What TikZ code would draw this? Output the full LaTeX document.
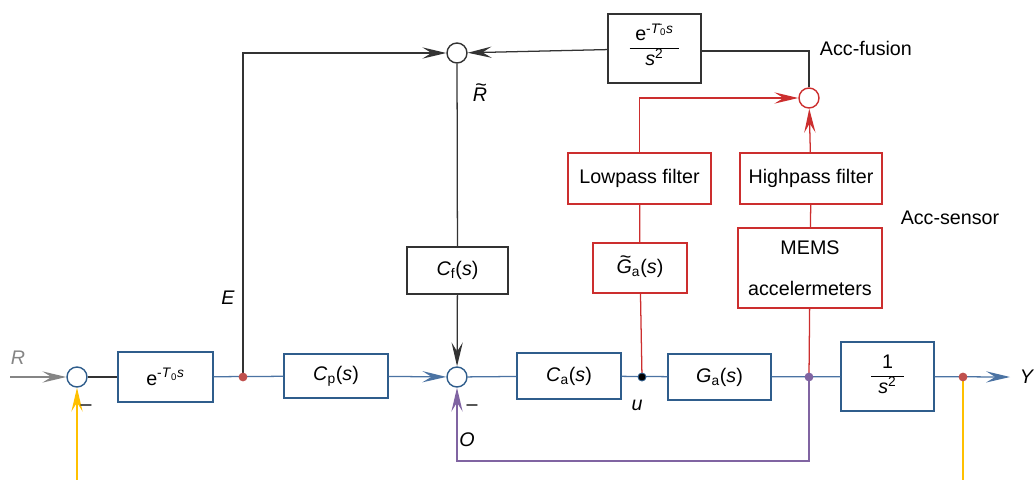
\documentclass[tikz,border=0pt]{standalone}
\usepackage{fontspec}
\setmainfont{Liberation Sans}
\usetikzlibrary{arrows.meta}

\definecolor{boxblue}{HTML}{2F5D8C}
\definecolor{lineblue}{HTML}{4B73A3}
\definecolor{accred}{HTML}{CC2E2E}
\definecolor{dotred}{HTML}{C0504D}
\definecolor{fbpurple}{HTML}{8064A2}
\definecolor{distyellow}{HTML}{FFC000}
\definecolor{refgray}{HTML}{858585}
\definecolor{darkline}{HTML}{333333}

% italic letter with a tilde on top
\newcommand{\tildeit}[1]{\ooalign{\textit{#1}\cr\hidewidth\hspace{0.12em}\raisebox{0.5em}{\textasciitilde}\hidewidth\cr}}

\begin{document}
\begin{tikzpicture}[x=0.025cm,y=-0.025cm,
	every node/.style={font=\fontsize{14}{17}\selectfont},
	blk/.style={draw=#1,line width=1pt,inner sep=2pt},
	sumnode/.style={circle,draw=#1,fill=white,line width=1pt,minimum size=0.5cm,inner sep=0pt},
	dotnode/.style={circle,fill=#1,minimum size=0.22cm,inner sep=0pt},
	tip/.style={-{Stealth[length=17pt,width=8pt,inset=6.5pt]}},
	wire/.style={line width=0.9pt}]
	\useasboundingbox (0,0) rectangle (1035,480);

	% summing junctions
	\node[sumnode=boxblue] (s1) at (77,377) {};
	\node[sumnode=darkline] (s2) at (457,53) {};
	\node[sumnode=boxblue] (s3) at (457,377) {};
	\node[sumnode=accred] (s4) at (809,98) {};

	% forward path
	\node[blk=boxblue,minimum width=2.375cm,minimum height=1.25cm] (delay) at (165.5,377)
		{e\textsuperscript{-\textit{T}\textsubscript{0}\textit{s}}};
	\node[blk=boxblue,minimum width=2.6cm,minimum height=1.1cm] (cp) at (336,376)
		{\textit{C}\textsubscript{p}(\textit{s})};
	\node[blk=boxblue,minimum width=2.6cm,minimum height=1.15cm] (ca) at (569,376)
		{\textit{C}\textsubscript{a}(\textit{s})};
	\node[blk=boxblue,minimum width=2.575cm,minimum height=1.15cm] (ga) at (719.5,377)
		{\textit{G}\textsubscript{a}(\textit{s})};
	\node[blk=boxblue,minimum width=2.325cm,minimum height=1.725cm] (plant) at (887.5,376.5)
		{\begin{tabular}{@{\hspace{5pt}}c@{\hspace{5pt}}}1\\\hline\textit{s}\textsuperscript{2}\end{tabular}};

	% feed-forward and model
	\node[blk=darkline,minimum width=2.525cm,minimum height=1.175cm] (cf) at (457.5,270.5)
		{\textit{C}\textsubscript{f}(\textit{s})};
	\node[blk=darkline,minimum width=2.325cm,minimum height=1.725cm] (model) at (654.5,48.5)
		{\begin{tabular}{@{\hspace{4pt}}c@{\hspace{4pt}}}e\textsuperscript{-\={\textit{T}}\textsubscript{0}\textit{s}}\\\hline\textit{s}\textsuperscript{2}\end{tabular}};

	% acc sensor
	\node[blk=accred,minimum width=3.575cm,minimum height=1.275cm] (lowpass) at (639.5,178.5) {Lowpass filter};
	\node[blk=accred,minimum width=3.55cm,minimum height=1.275cm] (highpass) at (811,178.5) {Highpass filter};
	\node[blk=accred,minimum width=2.35cm,minimum height=1.25cm] (gtilde) at (640,268)
		{\tildeit{G}\textsubscript{a}(\textit{s})};
	\node[blk=accred,minimum width=3.6cm,minimum height=2cm,align=center] (mems) at (810,268)
		{MEMS\\[12pt]accelermeters};

	% branch points
	\coordinate (e) at (243,377);
	\coordinate (u) at (642,377);
	\coordinate (acc) at (809,377);
	\coordinate (y) at (963,377);
	\coordinate (rin) at (10,377);
	\coordinate (yout) at (1010,377);
	\coordinate (din) at (77,480);
	\coordinate (dout) at (963,480);

	% connectors
	\draw[wire,refgray,tip] (rin) -- (s1);
	\draw[wire,distyellow,tip] (din) -- (s1);
	\draw[wire,darkline] (s1) -- (delay);
	\draw[wire,lineblue] (delay) -- (cp);
	\draw[wire,darkline,tip] (e) |- (s2);
	\draw[wire,lineblue,tip] (cp) -- (s3);
	\draw[wire,lineblue] (s3) -- (ca);
	\draw[wire,lineblue] (ca) -- (ga);
	\draw[wire,lineblue] (ga) -- (plant);
	\draw[wire,lineblue,tip] (plant) -- (yout);
	\draw[wire,distyellow] (y) -- (dout);
	\draw[wire,fbpurple,tip] (acc) -- ++(0,84) -| (s3);
	\draw[wire,darkline] (s2) -- (cf);
	\draw[wire,darkline,tip] (cf) -- (s3);
	\draw[wire,darkline,tip] (model) -- (s2);
	\draw[wire,darkline] (model.east) ++(0,2.5) -| (s4);
	\draw[wire,accred,tip] (lowpass) |- (s4);
	\draw[wire,accred,tip] (highpass) -- (s4);
	\draw[wire,accred] (mems) -- (highpass);
	\draw[wire,accred] (mems) -- (acc);
	\draw[wire,accred] (gtilde) -- (lowpass);
	\draw[wire,accred] (gtilde) -- (u);

	% dots
	\node[dotnode=dotred] at (e) {};
	\node[dotnode=black,draw=boxblue,line width=0.6pt,minimum size=0.2cm] at (u) {};
	\node[dotnode=fbpurple] at (acc) {};
	\node[dotnode=dotred] at (y) {};

	% labels
	\node[refgray] (rlabel) at (18,358) {\textit{R}};
	\node (m1) at (86,408) {–};
	\node (elabel) at (228,298) {\textit{E}};
	\node (rtlabel) at (480,95) {\tildeit{R}};
	\node[anchor=west] (fusion) at (815,48) {Acc-fusion};
	\node (sensor) at (950,218) {Acc-sensor};
	\node (ulabel) at (637,405) {\textit{u}};
	\node (m2) at (472,408) {–};
	\node (olabel) at (467,440) {\textit{O}};
	\node (ylabel) at (1027,377) {\textit{Y}};
\end{tikzpicture}
\end{document}
